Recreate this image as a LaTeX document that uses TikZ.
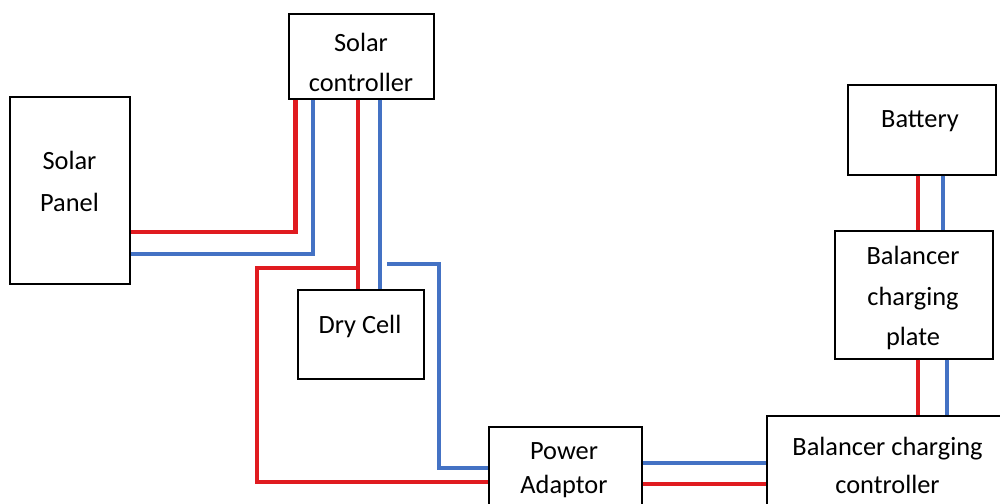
\documentclass[tikz,border=0pt]{standalone}
\usepackage{fontspec}
\setmainfont{Carlito}
\definecolor{wirered}{RGB}{224,27,32}
\definecolor{wireblue}{RGB}{68,114,196}

\begin{document}
\begin{tikzpicture}[
  box/.style={draw, line width=0.8pt, inner sep=0pt},
  txt/.style={align=center, inner sep=0pt, font=\fontsize{15}{22.8}\selectfont},
  redw/.style={wirered, line width=2.8pt},
  bluew/.style={wireblue, line width=2.3pt}]
\useasboundingbox (0,0) rectangle (20,10.08);
\clip (0,0) rectangle (20,10.08);
\node[box, minimum width=2.4cm, minimum height=3.74cm] (panel) at (1.4,6.27) {};
\node[box, minimum width=2.9cm, minimum height=1.7cm] (sc) at (7.23,8.95) {};
\node[box, minimum width=2.52cm, minimum height=1.78cm] (dry) at (7.22,3.39) {};
\node[box, minimum width=3.06cm, minimum height=2cm] (pa) at (11.31,0.54) {};
\node[box, minimum width=2.96cm, minimum height=1.8cm] (bat) at (18.44,7.48) {};
\node[box, minimum width=3.16cm, minimum height=2.56cm] (plate) at (18.28,4.18) {};
\node[box, minimum width=5cm, minimum height=2.2cm] (bcc) at (17.84,0.66) {};
\node[txt, font=\fontsize{15}{23.9}\selectfont] (paneltxt) at (1.39,6.46) {Solar\\Panel};
\node[txt] (sctxt) at (7.22,8.83) {Solar\\controller};
\node[txt] (drytxt) at (7.2,3.56) {Dry Cell};
\node[txt, font=\fontsize{15}{19.3}\selectfont] (patxt) at (11.28,0.68) {Power\\Adaptor};
\node[txt] (battxt) at (18.4,7.66) {Battery};
\node[txt] (platetxt) at (18.26,4.12) {Balancer\\charging\\plate};
\node[txt, font=\fontsize{15}{21.6}\selectfont] (bcctxt) at (17.75,0.78) {Balancer charging\\controller};
\coordinate (rj) at (7.16,4.72);
\coordinate (bj) at (7.74,4.80);
\draw[redw] (panel.east |- 0,5.44) -| (sc.south -| 5.91,0);
\draw[bluew] (panel.east |- 0,5.00) -| (sc.south -| 6.26,0);
\draw[redw] (sc.south -| 7.16,0) -- (dry.north -| 7.16,0);
\draw[bluew] (sc.south -| 7.60,0) -- (dry.north -| 7.60,0);
\draw[redw] (rj) -| (5.14,0.44) -- (pa.west |- 0,0.44);
\draw[bluew] (bj) -| (8.78,0.72) -- (pa.west |- 0,0.72);
\draw[bluew] (pa.east |- 0,0.82) -- (bcc.west |- 0,0.82);
\draw[redw] (pa.east |- 0,0.40) -- (bcc.west |- 0,0.40);
\draw[redw] (bat.south -| 18.36,0) -- (plate.north -| 18.36,0);
\draw[bluew] (bat.south -| 18.86,0) -- (plate.north -| 18.86,0);
\draw[redw] (plate.south -| 18.36,0) -- (bcc.north -| 18.36,0);
\draw[bluew] (plate.south -| 18.94,0) -- (bcc.north -| 18.94,0);
\end{tikzpicture}
\end{document}
